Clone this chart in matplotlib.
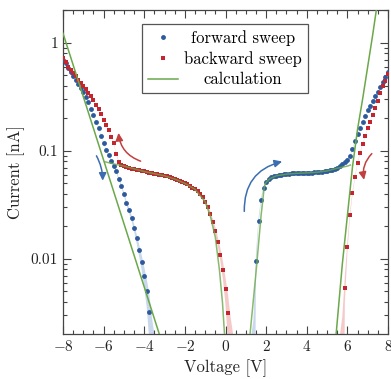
import numpy as np
import matplotlib
matplotlib.use("Agg")
import matplotlib.pyplot as plt
from matplotlib.patches import FancyArrowPatch
from matplotlib.ticker import FixedLocator, FuncFormatter, LogLocator, MultipleLocator, NullFormatter

plt.rcParams['font.family'] = ['cmr10', 'DejaVu Serif']
plt.rcParams['mathtext.fontset'] = 'cm'
plt.rcParams['axes.formatter.use_mathtext'] = True

# ---------------- data (log10 of current in nA) ----------------
STEP = 0.125
# forward sweep, left branch (-8 ... -3.5 V)
fwd_left_v = np.arange(-8.0, -3.5 + 1e-9, STEP)
fwd_left_logI = [-0.16, -0.19, -0.23, -0.27, -0.31, -0.345, -0.38, -0.415,
                 -0.45, -0.50, -0.55, -0.61, -0.67, -0.73, -0.79, -0.86,
                 -0.93, -0.99, -1.04, -1.09, -1.14, -1.19, -1.26, -1.32,
                 -1.40, -1.48, -1.55, -1.62, -1.71, -1.81, -1.92, -2.03,
                 -2.16, -2.30, -2.49, -2.85, -3.30]
# forward sweep, right branch (1.25 ... 8 V)
fwd_right_v = np.arange(1.25, 8.0 + 1e-9, STEP)
fwd_right_logI = [-3.50, -2.90, -2.02, -1.65, -1.45, -1.34,
                  -1.29, -1.26, -1.245, -1.235, -1.228, -1.222, -1.218, -1.215,
                  -1.212, -1.21, -1.208, -1.207, -1.206, -1.205, -1.204, -1.203,
                  -1.202, -1.201, -1.20, -1.198, -1.196, -1.194, -1.191, -1.187,
                  -1.183, -1.178, -1.172, -1.165, -1.155, -1.14, -1.125, -1.105,
                  -1.08, -1.05, -0.985, -0.91, -0.845, -0.785, -0.73, -0.675,
                  -0.625, -0.58, -0.535, -0.49, -0.45, -0.41, -0.365, -0.315,
                  -0.27]
# backward sweep, right branch (8 ... 5.625 V)
bwd_right_v = np.arange(8.0, 5.625 - 1e-9, -STEP)
bwd_right_logI = [-0.29, -0.35, -0.40, -0.465, -0.535, -0.60, -0.665, -0.73,
                  -0.79, -0.865, -0.94, -1.02, -1.11, -1.24, -1.39, -1.59,
                  -1.89, -2.27, -2.85, -3.40]
# backward sweep, left branch (0.375 ... -8 V)
bwd_left_v = np.arange(0.375, -8.0 - 1e-9, -STEP)
bwd_left_logI = [-3.30, -2.85, -2.50, -2.28,
                 -2.10, -1.96, -1.84, -1.74, -1.655, -1.58, -1.52, -1.47,
                 -1.43, -1.40, -1.375, -1.355, -1.34, -1.325, -1.31, -1.30,
                 -1.29, -1.28, -1.27, -1.26, -1.25, -1.24, -1.235, -1.23,
                 -1.225, -1.22, -1.215, -1.21, -1.205, -1.20, -1.195, -1.19,
                 -1.185, -1.18, -1.175, -1.17, -1.165, -1.16, -1.15, -1.14,
                 -1.13, -1.10, -1.03, -0.93, -0.87, -0.81, -0.76, -0.71,
                 -0.66, -0.61, -0.57, -0.53, -0.495, -0.46, -0.43, -0.40,
                 -0.37, -0.34, -0.31, -0.28, -0.25, -0.22, -0.18, -0.14]

# calculation curves
calc1_v = [-8.0, -3.2]
calc1_logI = [0.09, -2.73]
calc2_v = [-5.93, -5.5, -5.0, -4.5, -4.0, -3.5, -3.0, -2.5, -2.0, -1.5, -1.0,
           -0.75, -0.5, -0.3, -0.15, -0.03]
calc2_logI = [-1.10, -1.12, -1.14, -1.165, -1.19, -1.21, -1.23, -1.26, -1.30,
              -1.355, -1.47, -1.60, -1.80, -2.10, -2.40, -2.75]
calc3_v = [1.19, 1.5, 1.75, 1.91, 2.0, 2.2, 2.5, 3.0, 3.5, 4.0, 4.5, 5.0, 5.5, 6.0, 6.15]
calc3_logI = [-2.73, -2.13, -1.60, -1.33, -1.29, -1.255, -1.23, -1.215, -1.207,
              -1.203, -1.197, -1.185, -1.16, -1.14, -1.13]
calc4_v = [5.43, 5.75, 6.0, 6.25, 6.5, 6.75, 7.0, 7.25, 7.5]
calc4_logI = [-2.73, -2.05, -1.60, -1.15, -0.80, -0.52, -0.22, 0.08, 0.40]

band_delta = 0.0015  # absolute uncertainty (nA)

x_ticks = [-8, -6, -4, -2, 0, 2, 4, 6, 8]
y_ticks = [0.01, 0.1, 1]
y_ticklabels = ['0.01', '0.1', '1']

# ---------------- style ----------------
C_BLUE = '#2c5a9c'
C_RED = '#c3262e'
C_GREEN = '#6aa84a'
C_BAND_B = '#c9d8ec'
C_BAND_R = '#f6c9c9'
C_AX = '#444444'

fig = plt.figure(figsize=(3.91, 3.79), dpi=100)
ax = fig.add_axes([63/391, 1-334/379, (388-63)/391, (334-10)/379])

def cur(logs):
    return 10.0 ** np.asarray(logs, dtype=float)

# error bands
for v, lg, col in [(fwd_left_v, fwd_left_logI, C_BAND_B),
                   (fwd_right_v, fwd_right_logI, C_BAND_B),
                   (bwd_right_v, bwd_right_logI, C_BAND_R),
                   (bwd_left_v, bwd_left_logI, C_BAND_R)]:
    i = cur(lg)
    lo = np.clip(i - band_delta, 1e-6, None)
    ax.fill_between(v, lo, i + band_delta, color=col, lw=0, zorder=1)

# data markers
ax.plot(fwd_left_v, cur(fwd_left_logI), 'o', color=C_BLUE, ms=3.5, mew=0, zorder=3,
        label='forward sweep')
ax.plot(fwd_right_v, cur(fwd_right_logI), 'o', color=C_BLUE, ms=3.5, mew=0, zorder=3)
ax.plot(bwd_right_v, cur(bwd_right_logI), 's', color=C_RED, ms=3.3, mew=0, zorder=3,
        label='backward sweep')
ax.plot(bwd_left_v, cur(bwd_left_logI), 's', color=C_RED, ms=3.3, mew=0, zorder=3)

# calculation
ax.plot(calc1_v, cur(calc1_logI), '-', color=C_GREEN, lw=1.1, zorder=4, label='calculation')
ax.plot(calc2_v, cur(calc2_logI), '-', color=C_GREEN, lw=1.1, zorder=4, alpha=0.8)
ax.plot(calc3_v, cur(calc3_logI), '-', color=C_GREEN, lw=1.1, zorder=4, alpha=0.8)
ax.plot(calc4_v, cur(calc4_logI), '-', color=C_GREEN, lw=1.1, zorder=4)

# sweep direction arrows
arrows = [((-6.42, 0.095), (-6.05, 0.050), -0.15, '#3b6db0'),
          ((-4.05, 0.079), (-5.28, 0.156), -0.35, '#c0413f'),
          ((0.93, 0.026), (2.92, 0.081), -0.42, '#3b6db0'),
          ((7.30, 0.0985), (6.85, 0.051), 0.30, '#c0413f')]
for p0, p1, rad, col in arrows:
    ax.add_patch(FancyArrowPatch(p0, p1, connectionstyle=f"arc3,rad={rad}",
                                 arrowstyle="-|>,head_length=0.45,head_width=0.22",
                                 mutation_scale=10, color=col, lw=1.1, zorder=5))

ax.set_yscale('log')
ax.set_xlim(-8, 8)
ax.set_ylim(0.00202, 2.02)

ax.xaxis.set_major_locator(FixedLocator(x_ticks))
ax.xaxis.set_minor_locator(MultipleLocator(0.5))
ax.xaxis.set_major_formatter(FuncFormatter(lambda x, p: f'${x:.0f}$'))
ax.yaxis.set_major_locator(FixedLocator(y_ticks))
ax.yaxis.set_major_formatter(FuncFormatter(
    lambda y, p: dict(zip(y_ticks, y_ticklabels)).get(y, '')))
ax.yaxis.set_minor_locator(LogLocator(base=10, subs=np.arange(2, 10)))
ax.yaxis.set_minor_formatter(NullFormatter())

ax.tick_params(which='both', direction='in', top=True, right=True, color=C_AX,
               labelcolor='#222222', labelsize=11, width=0.8)
ax.tick_params(which='major', length=6)
ax.tick_params(which='minor', length=3.2)
for s in ax.spines.values():
    s.set_color(C_AX)
    s.set_linewidth(0.9)

ax.set_xlabel('Voltage [V]', fontsize=12, color='#222222', labelpad=4)
ax.set_ylabel('Current [nA]', fontsize=12, color='#222222', labelpad=4)

leg = ax.legend(loc='upper left', bbox_to_anchor=(141.7/391, 1-24/379),
                bbox_transform=fig.transFigure, fontsize=12, numpoints=1,
                handlelength=1.8, handletextpad=0.4, labelspacing=0.32,
                borderpad=0.35, borderaxespad=0, fancybox=False, framealpha=1,
                markerscale=1.0)
leg.get_frame().set_edgecolor('#555555')
leg.get_frame().set_linewidth(0.9)

# center legend labels
fig.canvas.draw()
texts = leg.get_texts()
widths = [t.get_window_extent().width for t in texts]
mw = max(widths)
for t, w in zip(texts, widths):
    t.set_position(((mw - w) / 2, 0))

fig.savefig('out.png', dpi=100)
